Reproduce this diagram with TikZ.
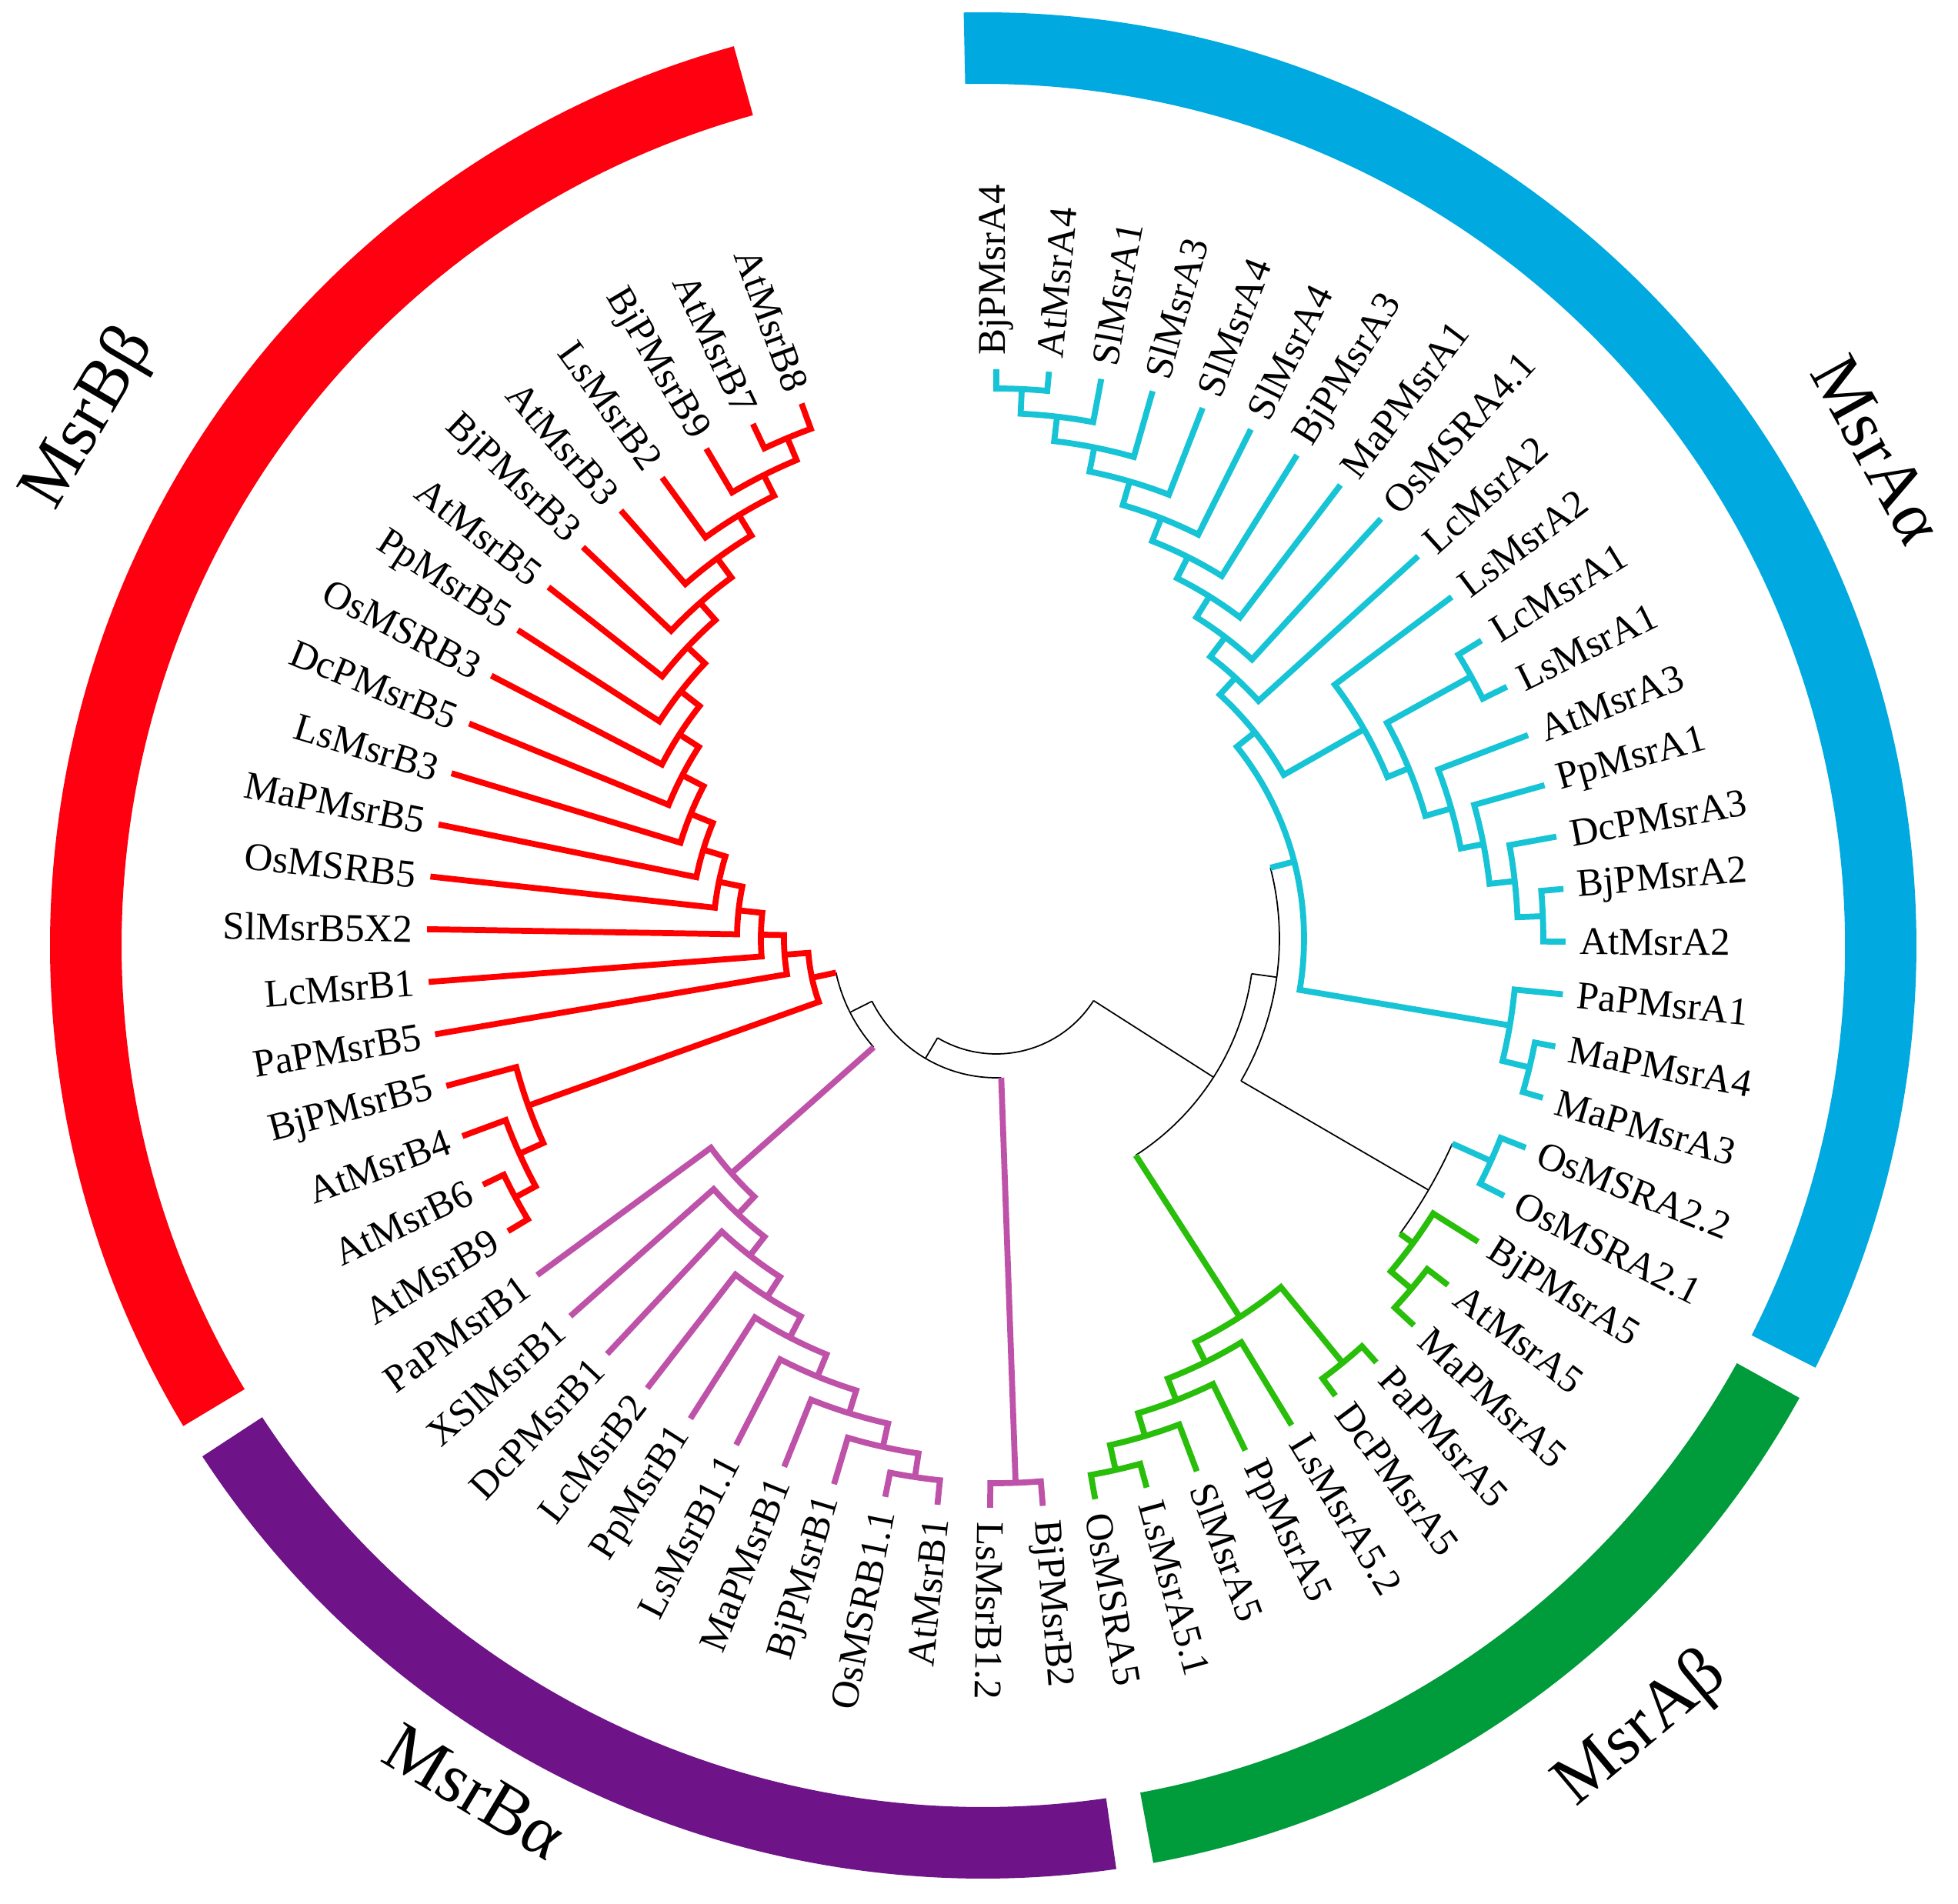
\documentclass[tikz,border=0pt]{standalone}
\usepackage{fontspec}
\setmainfont{Liberation Serif}
\usepackage{tikz}
\definecolor{brred}{RGB}{255,0,0}
\definecolor{brcyan}{RGB}{22,196,214}
\definecolor{brpurple}{RGB}{190,82,168}
\definecolor{brgreen}{RGB}{40,190,10}
\definecolor{ringred}{RGB}{255,0,16}
\definecolor{ringblue}{RGB}{0,169,224}
\definecolor{ringpurple}{RGB}{110,19,136}
\definecolor{ringgreen}{RGB}{0,155,58}
\newcommand{\leafnode}[3]{\pgfmathsetmacro\angL{90-5.3125*#2}\expandafter\xdef\csname ta#1\endcsname{\angL}\coordinate (#1) at (\angL:7.40);\ifdim\angL pt>-93pt \node[leaflbl, anchor=west, rotate=\angL] (#1-t) at (\angL:7.58) {#3};\else\pgfmathsetmacro\angR{\angL+180}\node[leaflbl, anchor=east, rotate=\angR] (#1-t) at (\angL:7.58) {#3};\fi}
\newcommand{\cladenode}[5]{\edef\angA{\csname ta#2\endcsname}\edef\angB{\csname ta#3\endcsname}\pgfmathsetmacro\angM{(\angA+\angB)/2}\expandafter\xdef\csname ta#1\endcsname{\angM}\coordinate (#1) at (\angM:#4);\draw[#5] (#2) -- (\angA:#4) arc[start angle=\angA, end angle=\angB, radius=#4] -- (#3);}
\newcommand{\spinenode}[6]{\edef\angA{\csname ta#2\endcsname}\edef\angB{\csname ta#3\endcsname}\pgfmathsetmacro\angM{(\angA+\angB)/2}\expandafter\xdef\csname ta#1\endcsname{\angM}\coordinate (#1) at (\angM:#4);\draw[bb] (\angA:#4) arc[start angle=\angA, end angle=\angB, radius=#4];\draw[#5] (#2) -- (\angA:#4);\draw[#6] (#3) -- (\angB:#4);}
\newcommand{\ringband}[3]{\fill[#3] (#1:11.20) arc[start angle=#1, end angle=#2, radius=11.20] -- (#2:12.13) arc[start angle=#2, end angle=#1, radius=12.13] -- cycle;}

\begin{document}
\begin{tikzpicture}[bb/.style={black, line width=0.5pt},
		rd/.style={brred, line width=2.2pt},
		cy/.style={brcyan, line width=2.2pt},
		pu/.style={brpurple, line width=2.2pt},
		gr/.style={brgreen, line width=2.2pt},
		leaflbl/.style={font=\fontsize{14.5}{17}\selectfont, inner sep=0pt},
		grplbl/.style={font=\fontsize{26}{30}\selectfont, inner sep=0pt}]
		\useasboundingbox (-12.95,-12.55) rectangle (12.50,12.20);

		\begin{scope}[shift={(-0.17,-0.09)}]
		\ringband{105.5}{211.0}{ringred}
		\ringband{213.2}{278.2}{ringpurple}
		\ringband{280.5}{331.0}{ringgreen}
		\ringband{-26.9}{91.2}{ringblue}
		\node[grplbl, rotate=59.5] (lblBb) at (149.5:13.48) {MsrBβ};
		\node[grplbl, rotate=-61] (lblAa) at (29.0:13.29) {MsrAα};
		\node[grplbl, rotate=40] (lblAb) at (-50.0:13.31) {MsrAβ};
		\node[grplbl, rotate=-31] (lblBa) at (239.0:12.83) {MsrBα};
		\end{scope}

		\leafnode{BjA4}{0}{BjPMsrA4};
		\leafnode{AtA4}{1}{AtMsrA4};
		\leafnode{SlA1}{2}{SlMsrA1};
		\leafnode{SlA3}{3}{SlMsrA3};
		\leafnode{SlA4a}{4}{SlMsrA4};
		\leafnode{SlA4b}{5}{SlMsrA4};
		\leafnode{BjA3}{6}{BjPMsrA3};
		\leafnode{MaA1}{7}{MaPMsrA1};
		\leafnode{OsA41}{8}{OsMSRA4.1};
		\leafnode{LcA2}{9}{LcMsrA2};
		\leafnode{LsA2}{10}{LsMsrA2};
		\leafnode{LcA1}{11}{LcMsrA1};
		\leafnode{LsA1}{12}{LsMsrA1};
		\leafnode{AtA3}{13}{AtMsrA3};
		\leafnode{PpA1}{14}{PpMsrA1};
		\leafnode{DcA3}{15}{DcPMsrA3};
		\leafnode{BjA2}{16}{BjPMsrA2};
		\leafnode{AtA2}{17}{AtMsrA2};
		\leafnode{PaA1}{18}{PaPMsrA1};
		\leafnode{MaA4}{19}{MaPMsrA4};
		\leafnode{MaA3}{20}{MaPMsrA3};
		\leafnode{OsA22}{21}{OsMSRA2.2};
		\leafnode{OsA21}{22}{OsMSRA2.1};

		\leafnode{BjA5}{23}{BjPMsrA5};
		\leafnode{AtA5}{24}{AtMsrA5};
		\leafnode{MaA5}{25}{MaPMsrA5};
		\leafnode{PaA5}{26}{PaPMsrA5};
		\leafnode{DcA5}{27}{DcPMsrA5};
		\leafnode{LsA52}{28}{LsMsrA5.2};
		\leafnode{PpA5}{29}{PpMsrA5};
		\leafnode{SlA5}{30}{SlMsrA5};
		\leafnode{LsA51}{31}{LsMsrA5.1};
		\leafnode{OsA5}{32}{OsMSRA5};

		\leafnode{BjB2}{33}{BjPMsrB2};
		\leafnode{LsB12}{34}{LsMsrB1.2};
		\leafnode{AtB1}{35}{AtMsrB1};
		\leafnode{OsB11}{36}{OsMSRB1.1};
		\leafnode{BjB1}{37}{BjPMsrB1};
		\leafnode{MaB1}{38}{MaPMsrB1};
		\leafnode{LsB11}{39}{LsMsrB1.1};
		\leafnode{PpB1}{40}{PpMsrB1};
		\leafnode{LcB2}{41}{LcMsrB2};
		\leafnode{DcB1}{42}{DcPMsrB1};
		\leafnode{XSlB1}{43}{XSlMsrB1};
		\leafnode{PaB1}{44}{PaPMsrB1};

		\leafnode{AtB9}{45}{AtMsrB9};
		\leafnode{AtB6}{46}{AtMsrB6};
		\leafnode{AtB4}{47}{AtMsrB4};
		\leafnode{BjB5}{48}{BjPMsrB5};
		\leafnode{PaB5}{49}{PaPMsrB5};
		\leafnode{LcB1}{50}{LcMsrB1};
		\leafnode{SlB5}{51}{SlMsrB5X2};
		\leafnode{OsB5}{52}{OsMSRB5};
		\leafnode{MaB5}{53}{MaPMsrB5};
		\leafnode{LsB3}{54}{LsMsrB3};
		\leafnode{DcB5}{55}{DcPMsrB5};
		\leafnode{OsB3}{56}{OsMSRB3};
		\leafnode{PpB5}{57}{PpMsrB5};
		\leafnode{AtB5}{58}{AtMsrB5};
		\leafnode{BjB3}{59}{BjPMsrB3};
		\leafnode{AtB3}{60}{AtMsrB3};
		\leafnode{LsB2}{61}{LsMsrB2};
		\leafnode{BjB9}{62}{BjPMsrB9};
		\leafnode{AtB7}{63}{AtMsrB7};
		\leafnode{AtB8}{64}{AtMsrB8};

		\cladenode{T1}{BjA4}{AtA4}{7.15}{cy};
		\cladenode{T2}{T1}{SlA1}{6.83}{cy};
		\cladenode{T3}{T2}{SlA3}{6.51}{cy};
		\cladenode{T4}{T3}{SlA4a}{6.19}{cy};
		\cladenode{T5}{T4}{SlA4b}{5.87}{cy};
		\cladenode{T6}{T5}{BjA3}{5.55}{cy};
		\cladenode{T7}{T6}{MaA1}{5.24}{cy};
		\cladenode{T8}{T7}{OsA41}{4.92}{cy};
		\cladenode{T9}{T8}{LcA2}{4.60}{cy};
		\cladenode{C5}{BjA2}{AtA2}{7.11}{cy};
		\cladenode{C4}{DcA3}{C5}{6.78}{cy};
		\cladenode{C3}{PpA1}{C4}{6.45}{cy};
		\cladenode{C2}{AtA3}{C3}{6.15}{cy};
		\cladenode{CLL}{LcA1}{LsA1}{7.05}{cy};
		\cladenode{Clow}{CLL}{C2}{5.80}{cy};
		\cladenode{Cmid}{LsA2}{Clow}{5.50}{cy};
		\cladenode{Cup}{T9}{Cmid}{4.30}{cy};
		\cladenode{CMa}{MaA4}{MaA3}{7.13}{cy};
		\cladenode{PaG}{PaA1}{CMa}{6.77}{cy};
		\cladenode{CM}{Cup}{PaG}{4.00}{cy};
		\cladenode{Os2}{OsA22}{OsA21}{7.05}{cy};

		\cladenode{G2}{AtA5}{MaA5}{7.06}{gr};
		\cladenode{G1}{BjA5}{G2}{6.71}{gr};
		\cladenode{GM5}{LsA51}{OsA5}{7.08}{gr};
		\cladenode{GM4}{SlA5}{GM5}{6.75}{gr};
		\cladenode{GM3}{PpA5}{GM4}{6.44}{gr};
		\cladenode{GM2}{LsA52}{GM3}{6.14}{gr};
		\cladenode{PaDc}{PaA5}{DcA5}{7.12}{gr};
		\cladenode{GM1}{PaDc}{GM2}{5.85}{gr};

		\cladenode{P9}{AtB1}{OsB11}{7.08}{pu};
		\cladenode{P8}{P9}{BjB1}{6.77}{pu};
		\cladenode{P7}{P8}{MaB1}{6.46}{pu};
		\cladenode{P6}{P7}{LsB11}{6.15}{pu};
		\cladenode{P5}{P6}{PpB1}{5.84}{pu};
		\cladenode{P4}{P5}{LcB2}{5.53}{pu};
		\cladenode{P3}{P4}{DcB1}{5.22}{pu};
		\cladenode{P2}{P3}{XSlB1}{4.91}{pu};
		\cladenode{P1}{P2}{PaB1}{4.60}{pu};
		\cladenode{Pu2}{BjB2}{LsB12}{7.08}{pu};

		\cladenode{R1}{AtB8}{AtB7}{7.05}{rd};
		\cladenode{R2}{R1}{BjB9}{6.74}{rd};
		\cladenode{R3}{R2}{LsB2}{6.44}{rd};
		\cladenode{R4}{R3}{AtB3}{6.13}{rd};
		\cladenode{R5}{R4}{BjB3}{5.82}{rd};
		\cladenode{R6}{R5}{AtB5}{5.52}{rd};
		\cladenode{R7}{R6}{PpB5}{5.21}{rd};
		\cladenode{R8}{R7}{OsB3}{4.90}{rd};
		\cladenode{R9}{R8}{DcB5}{4.60}{rd};
		\cladenode{R10}{R9}{LsB3}{4.29}{rd};
		\cladenode{R11}{R10}{MaB5}{3.98}{rd};
		\cladenode{R12}{R11}{OsB5}{3.68}{rd};
		\cladenode{R13}{R12}{SlB5}{3.37}{rd};
		\cladenode{R14}{R13}{LcB1}{3.06}{rd};
		\cladenode{R15}{R14}{PaB5}{2.76}{rd};
		\cladenode{Q3}{AtB6}{AtB9}{7.10}{rd};
		\cladenode{Q2}{AtB4}{Q3}{6.80}{rd};
		\cladenode{Q1}{BjB5}{Q2}{6.46}{rd};
		\cladenode{R16}{R15}{Q1}{2.45}{rd};

		\spinenode{A}{R16}{P1}{2.13}{rd}{pu};
		\spinenode{B}{A}{Pu2}{1.81}{bb}{pu};
		\spinenode{F}{Os2}{G1}{6.50}{cy}{gr};
		\spinenode{E}{F}{CM}{3.68}{bb}{cy};
		\spinenode{D}{GM1}{E}{3.35}{gr}{bb};
		\spinenode{C}{B}{D}{1.50}{bb}{bb};
	\end{tikzpicture}
\end{document}
